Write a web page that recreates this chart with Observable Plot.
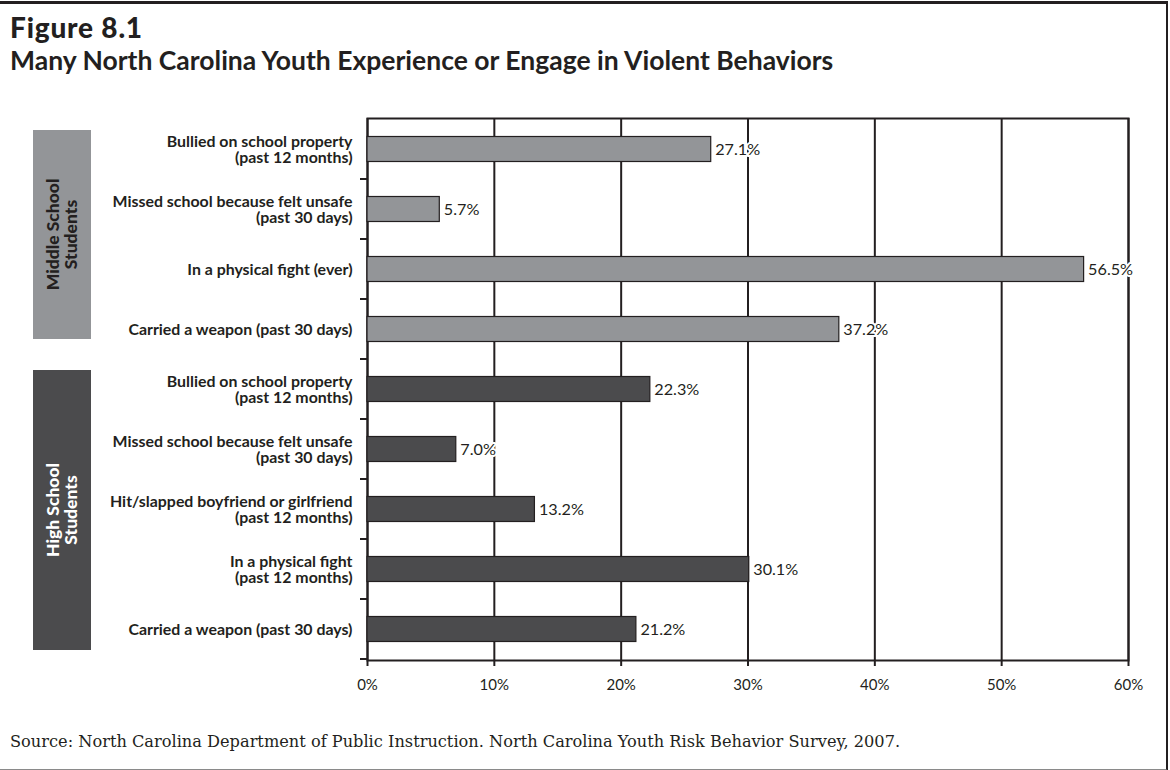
<!DOCTYPE html>
<html>
<head>
<meta charset="utf-8">
<script src="https://cdn.jsdelivr.net/npm/d3@7"></script>
<script src="https://cdn.jsdelivr.net/npm/@observablehq/plot@0.6"></script>
<style>
  html, body { margin: 0; padding: 0; background: #fff; }
  #page { position: relative; width: 1170px; height: 770px; overflow: hidden; font-family: Lato, sans-serif; color: #231f20; }
  #frame { position: absolute; left: -10px; top: 1px; width: 1176px; height: 765px; border-top: 3px solid #231f20; border-right: 2px solid #231f20; border-bottom: 2px solid #8a8a8a; }
  .t1 { position: absolute; left: 10px; top: 13px; font: 900 28px/1 Lato, sans-serif; letter-spacing: 0.8px; }
  .t2 { position: absolute; left: 10px; top: 47px; font: 700 26.5px/1 Lato, sans-serif; }
  .cap { position: absolute; left: 10px; top: 734px; font: 400 16.2px/1 "DejaVu Serif", serif; }
  #chart { position: absolute; left: 0; top: 90px; }
</style>
</head>
<body>
<div id="page">
  <div id="frame"></div>
  <div class="t1">Figure 8.1</div>
  <div class="t2">Many North Carolina Youth Experience or Engage in Violent Behaviors</div>
  <div id="chart"></div>
  <div class="cap">Source: North Carolina Department of Public Instruction. North Carolina Youth Risk Behavior Survey, 2007.</div>
</div>
<script>
// ---- data ----
const groups = ["Middle School\nStudents", "High School\nStudents"];
const middleLabels = [
  "Bullied on school property\n(past 12 months)",
  "Missed school because felt unsafe\n(past 30 days)",
  "In a physical fight (ever)",
  "Carried a weapon (past 30 days)"
];
const middleValues = [27.1, 5.7, 56.5, 37.2];
const highLabels = [
  "Bullied on school property\n(past 12 months)",
  "Missed school because felt unsafe\n(past 30 days)",
  "Hit/slapped boyfriend or girlfriend\n(past 12 months)",
  "In a physical fight\n(past 12 months)",
  "Carried a weapon (past 30 days)"
];
const highValues = [22.3, 7.0, 13.2, 30.1, 21.2];
const xTicks = [0, 10, 20, 30, 40, 50, 60];
const groupFills = ["#939598", "#4b4b4d"];
const groupTextColors = ["#231f20", "#ffffff"];

// ---- table ----
const rows = [
  ...middleLabels.map((label, i) => ({group: 0, key: "m" + i, label, value: middleValues[i]})),
  ...highLabels.map((label, i) => ({group: 1, key: "h" + i, label, value: highValues[i]}))
];
const labelOf = new Map(rows.map(d => [d.key, d.label]));
const ink = "#231f20";

const plot = Plot.plot({
  width: 1170,
  height: 620,
  marginLeft: 367,
  marginRight: 42,
  marginTop: 28,
  marginBottom: 50,
  style: {fontFamily: "Lato, sans-serif", color: ink, background: "transparent", overflow: "visible"},
  x: {domain: [0, 60]},
  y: {domain: rows.map(d => d.key), padding: 0},
  marks: [
    Plot.gridX(xTicks, {stroke: ink, strokeOpacity: 1, strokeWidth: 2}),
    Plot.frame({stroke: ink, strokeWidth: 2}),
    Plot.barX(rows, {
      x: "value", y: "key",
      fill: d => groupFills[d.group],
      stroke: ink, strokeWidth: 1.2,
      insetTop: 17.5, insetBottom: 17.5
    }),
    Plot.text(rows, {
      x: "value", y: "key",
      text: d => d.value.toFixed(1) + "%",
      textAnchor: "start", dx: 4,
      fontSize: 16.2, fill: ink,
      stroke: "white", strokeWidth: 4
    }),
    Plot.axisX(xTicks, {
      tickFormat: d => d + "%",
      tickSize: 6, tickPadding: 13,
      fontSize: 15, stroke: ink, strokeWidth: 2, label: null
    }),
    Plot.axisY({
      tickFormat: k => labelOf.get(k),
      tickSize: 0, tickPadding: 15,
      fontSize: 15.9, fontWeight: 700, lineHeight: 1.05,
      label: null
    })
  ]
});
document.getElementById("chart").appendChild(plot);

// ---- boundary ticks and group boxes, positioned through Plot's y scale ----
const ys = plot.scale("y");
const bw = ys.bandwidth;
const xs = plot.scale("x");
const x0 = xs.apply(0);
const svg = d3.select(plot);
const keys = rows.map(d => d.key);
keys.forEach(k => {
  const yb = ys.apply(k) + bw;
  svg.append("line").attr("x1", x0 - 7).attr("x2", x0).attr("y1", yb).attr("y2", yb)
    .attr("stroke", ink).attr("stroke-width", 2);
});

function groupBox(gi, firstKey, lastKey, insetTop, insetBottom) {
  const y1 = ys.apply(firstKey) + insetTop;
  const y2 = ys.apply(lastKey) + bw - insetBottom;
  const bx = 33, bwid = 58;
  svg.append("rect").attr("x", bx).attr("y", y1).attr("width", bwid).attr("height", y2 - y1)
    .attr("fill", groupFills[gi]);
  const cx = bx + bwid / 2, cy = (y1 + y2) / 2;
  const t = svg.append("text")
    .attr("transform", `translate(${cx},${cy}) rotate(-90)`)
    .attr("text-anchor", "middle")
    .attr("fill", groupTextColors[gi])
    .attr("font-family", "Lato, sans-serif")
    .attr("font-weight", 900)
    .attr("font-size", 17.5);
  const lines = groups[gi].split("\n");
  lines.forEach((ln, i) => {
    t.append("tspan").attr("x", 0).attr("y", (i - (lines.length - 1) / 2) * 18).attr("dy", "0.35em").text(ln);
  });
}
groupBox(0, "m0", "m3", 11, 20);
groupBox(1, "h0", "h4", 11, 9);
</script>
</body>
</html>
